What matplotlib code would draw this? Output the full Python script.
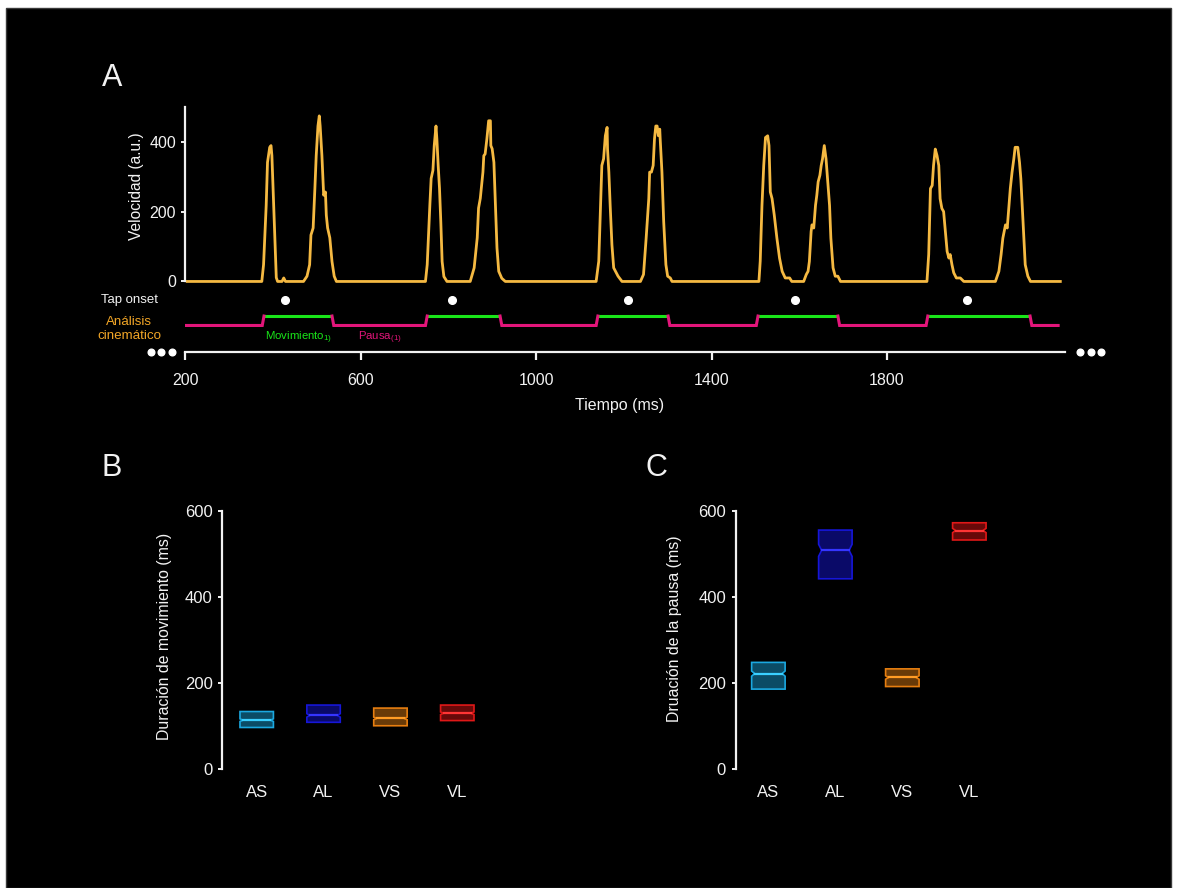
import numpy as np
import matplotlib
matplotlib.use("Agg")
import matplotlib.pyplot as plt
from matplotlib.patches import Rectangle, Polygon

plt.rcParams['font.family'] = ['Liberation Sans', 'DejaVu Sans']

# --- velocity trace (ms, a.u.) ---
trace_time = [
    205, 375, 379, 385, 388, 393, 396, 398, 402, 406, 408, 411, 421, 425, 429,
    470, 478, 484, 487, 492, 496, 499, 503, 506, 508, 512, 516, 520, 522, 525, 530, 535, 540, 545,
    748, 752, 758, 761, 765, 768, 772, 774, 777, 780, 783, 786, 790, 797,
    850, 859, 866, 869, 873, 879, 881, 884, 888, 892, 896, 897, 900, 904, 907, 911, 915, 922, 930,
    1137, 1143, 1147, 1150, 1154, 1158, 1162, 1163, 1166, 1169, 1173, 1177, 1183, 1187, 1196,
    1238, 1245, 1251, 1257, 1259, 1263, 1267, 1270, 1273, 1276, 1279, 1282, 1283, 1287, 1291, 1296, 1300, 1306, 1310,
    1508, 1511, 1515, 1519, 1523, 1528, 1531, 1534, 1538, 1543, 1549, 1555, 1561, 1568, 1578, 1583,
    1610, 1616, 1620, 1623, 1627, 1629, 1633, 1637, 1640, 1643, 1647, 1650, 1653, 1657, 1661, 1665, 1669, 1672, 1677, 1682, 1688, 1694,
    1891, 1895, 1899, 1903, 1906, 1910, 1914, 1918, 1921, 1925, 1929, 1933, 1937, 1941, 1944, 1948, 1952, 1958, 1967, 1975,
    2047, 2055, 2060, 2064, 2070, 2074, 2077, 2081, 2085, 2089, 2092, 2098, 2102, 2105, 2110, 2115, 2121, 2127, 2195,
]
trace_vel = [
    0, 0, 48, 218, 341, 384, 389, 360, 218, 77, 11, 0, 0, 10, 0,
    0, 15, 48, 133, 153, 267, 360, 445, 474, 445, 360, 247, 256, 190, 153, 125, 57, 15, 0,
    0, 48, 218, 295, 318, 389, 445, 408, 332, 267, 170, 57, 14, 0,
    0, 39, 125, 210, 238, 313, 360, 365, 408, 460, 460, 389, 380, 341, 238, 96, 29, 9, 0,
    0, 58, 218, 332, 351, 417, 441, 379, 313, 218, 105, 39, 25, 15, 0,
    0, 20, 124, 237, 313, 313, 332, 408, 445, 445, 417, 436, 408, 313, 171, 48, 15, 10, 0,
    0, 58, 218, 332, 412, 417, 389, 256, 237, 190, 124, 67, 29, 10, 10, 0,
    0, 20, 29, 57, 143, 162, 153, 218, 247, 285, 304, 332, 351, 389, 351, 285, 218, 124, 39, 15, 15, 0,
    0, 77, 266, 275, 332, 379, 360, 332, 237, 209, 200, 143, 86, 67, 77, 48, 25, 10, 10, 0,
    0, 29, 77, 124, 162, 153, 200, 266, 313, 351, 384, 384, 341, 294, 171, 48, 15, 0, 0,
]

tap_onsets = [428, 808, 1210, 1590, 1982]
move_on = [380, 752, 1141, 1506, 1893]
move_off = [535, 918, 1301, 1688, 2126]
step_start, step_end = 202, 2190
time_ticks = [200, 600, 1000, 1400, 1800]

# --- box summaries (ms) ---
conds = ['AS', 'AL', 'VS', 'VL']
mov_q1 = [97, 109, 101, 113]
mov_med = [114, 125, 118, 130]
mov_q3 = [134, 149, 142, 149]
mov_ci_lo = [111, 121, 115, 127]
mov_ci_hi = [117, 129, 121, 133]

pause_q1 = [186, 442, 192, 532]
pause_med = [222, 508, 213, 554]
pause_q3 = [248, 555, 233, 572]
pause_ci_lo = [216, 494, 209, 549]
pause_ci_hi = [228, 522, 217, 559]

edge_cols = ['#1BA8E0', '#1616D8', '#E67E10', '#E01818']
fill_cols = ['#0B4C66', '#0A0A68', '#683A08', '#680909']
med_cols = ['#3ACFFF', '#3535FF', '#FF9C25', '#FF3535']

FG = '#F2F2F2'
ORANGE = '#F5B942'
GREEN = '#19E619'
MAGENTA = '#E3157A'

W, H = 1177, 888
fig = plt.figure(figsize=(W / 100, H / 100), dpi=100, facecolor='white')
fig.patches.append(Rectangle((6 / W, 0), 1165 / W, 880 / H, transform=fig.transFigure,
                             facecolor='black', edgecolor='#3a3a3a', lw=1, zorder=-10))

# ---------------- panel A ----------------
axA = fig.add_axes([0.1572, 0.6024, 0.7474, 0.2793])
axA.patch.set_visible(False)
axA.set_xlim(200, 2205)
axA.set_ylim(-205, 505)

axA.plot(trace_time, trace_vel, color=ORANGE, lw=2.0, solid_joinstyle='round')

y_tap, y_hi, y_lo, y_axis = -53, -99, -126, -203
axA.plot(tap_onsets, [y_tap] * len(tap_onsets), 'o', color='white', ms=5.5)

# movement (green) / pause (magenta) step line
slant = 4
for on, off in zip(move_on, move_off):
    axA.plot([on, off], [y_hi, y_hi], color=GREEN, lw=2.2, solid_capstyle='butt')
pause_starts = [step_start] + move_off
pause_ends = move_on + [step_end]
for i, (s, e) in enumerate(zip(pause_starts, pause_ends)):
    xs, ys = [], []
    if i > 0:
        xs += [s]; ys += [y_hi]
        xs += [s + slant]; ys += [y_lo]
    else:
        xs += [s]; ys += [y_lo]
    if i < len(move_on):
        xs += [e - slant, e]; ys += [y_lo, y_hi]
    else:
        xs += [e]; ys += [y_lo]
    axA.plot(xs, ys, color=MAGENTA, lw=2.2, solid_joinstyle='miter')

axA.text((move_on[0] + move_off[0]) / 2, -160, r'Movimiento$_{\mathregular{1)}}$',
         color=GREEN, fontsize=8.2, ha='center', va='center')
axA.text((move_off[0] + move_on[1]) / 2, -160, r'Pausa$_{\mathregular{(1)}}$',
         color=MAGENTA, fontsize=8.2, ha='center', va='center')

for side in ['top', 'right']:
    axA.spines[side].set_visible(False)
axA.spines['left'].set_bounds(0, 500)
axA.spines['bottom'].set_position(('data', y_axis))
axA.spines['bottom'].set_bounds(200, 2205)
for side in ['left', 'bottom']:
    axA.spines[side].set_color(FG)
    axA.spines[side].set_linewidth(1.6)
axA.set_yticks([0, 200, 400])
axA.set_xticks(time_ticks)
axA.tick_params(axis='y', colors=FG, labelsize=11.5, length=3, width=1.4, pad=3.5)
axA.tick_params(axis='x', colors=FG, labelsize=11.5, length=6, width=1.6, pad=9)

# ellipsis dots on both ends of the time axis
ell = np.array([0, 24, 48])
axA.plot(200 - 30 - ell, [y_axis] * 3, 'o', color='white', ms=4.8, clip_on=False)
axA.plot(2205 + 35 + ell, [y_axis] * 3, 'o', color='white', ms=4.8, clip_on=False)

fig.text(136 / W, 1 - 186 / H, 'Velocidad (a.u.)', rotation=90, color=FG,
         fontsize=11.2, ha='center', va='center')
fig.text(620 / W, 1 - 405 / H, 'Tiempo (ms)', color=FG, fontsize=11.5, ha='center', va='center')
fig.text(158 / W, 1 - 300 / H, 'Tap onset', color=FG, fontsize=9.5, ha='right', va='center')
fig.text(129 / W, 1 - 329 / H, 'Análisis\ncinemático', color='#F2A627', fontsize=9.6,
         ha='center', va='center', linespacing=1.15)


# ---------------- panels B and C ----------------
def notched_box(ax, x, q1, med, q3, lo, hi, edge, fill, mcol, width=0.5, notch=0.82):
    hw = width / 2
    nw = hw * notch
    verts = [(x - hw, q1), (x + hw, q1), (x + hw, lo), (x + nw, med), (x + hw, hi),
             (x + hw, q3), (x - hw, q3), (x - hw, hi), (x - nw, med), (x - hw, lo)]
    ax.add_patch(Polygon(verts, closed=True, facecolor=fill, edgecolor=edge, lw=1.2))
    ax.plot([x - nw, x + nw], [med, med], color=mcol, lw=1.6)


def box_panel(rect, x0, q1, med, q3, lo, hi, ylabel, ylabel_xy):
    ax = fig.add_axes(rect)
    ax.patch.set_visible(False)
    pos = np.arange(1, len(conds) + 1)
    for i, p in enumerate(pos):
        notched_box(ax, p, q1[i], med[i], q3[i], lo[i], hi[i],
                    edge_cols[i], fill_cols[i], med_cols[i])
    ax.set_xlim(x0, 4.6)
    ax.set_ylim(0, 600)
    for side in ['top', 'right', 'bottom']:
        ax.spines[side].set_visible(False)
    ax.spines['left'].set_color(FG)
    ax.spines['left'].set_linewidth(1.6)
    ax.set_yticks([0, 200, 400, 600])
    ax.set_xticks(pos)
    ax.set_xticklabels(conds)
    ax.tick_params(axis='y', colors=FG, labelsize=12, length=3, width=1.4, pad=4)
    ax.tick_params(axis='x', colors=FG, labelsize=12, length=0, pad=11)
    fig.text(ylabel_xy[0] / W, 1 - ylabel_xy[1] / H, ylabel, rotation=90, color=FG,
             fontsize=11.4, ha='center', va='center')
    return ax


box_panel([0.1889, 0.1337, 0.2337, 0.2912], 0.486, mov_q1, mov_med, mov_q3,
          mov_ci_lo, mov_ci_hi, 'Duración de movimiento (ms)', (165, 636))
box_panel([0.6251, 0.1337, 0.2326, 0.2912], 0.513, pause_q1, pause_med, pause_q3,
          pause_ci_lo, pause_ci_hi, 'Druación de la pausa (ms)', (675, 629))

fig.text(112 / W, 1 - 78 / H, 'A', color=FG, fontsize=22, ha='center', va='center')
fig.text(112 / W, 1 - 468 / H, 'B', color=FG, fontsize=22, ha='center', va='center')
fig.text(656 / W, 1 - 468 / H, 'C', color=FG, fontsize=22, ha='center', va='center')

fig.savefig('out.png', dpi=100, facecolor=fig.get_facecolor())
